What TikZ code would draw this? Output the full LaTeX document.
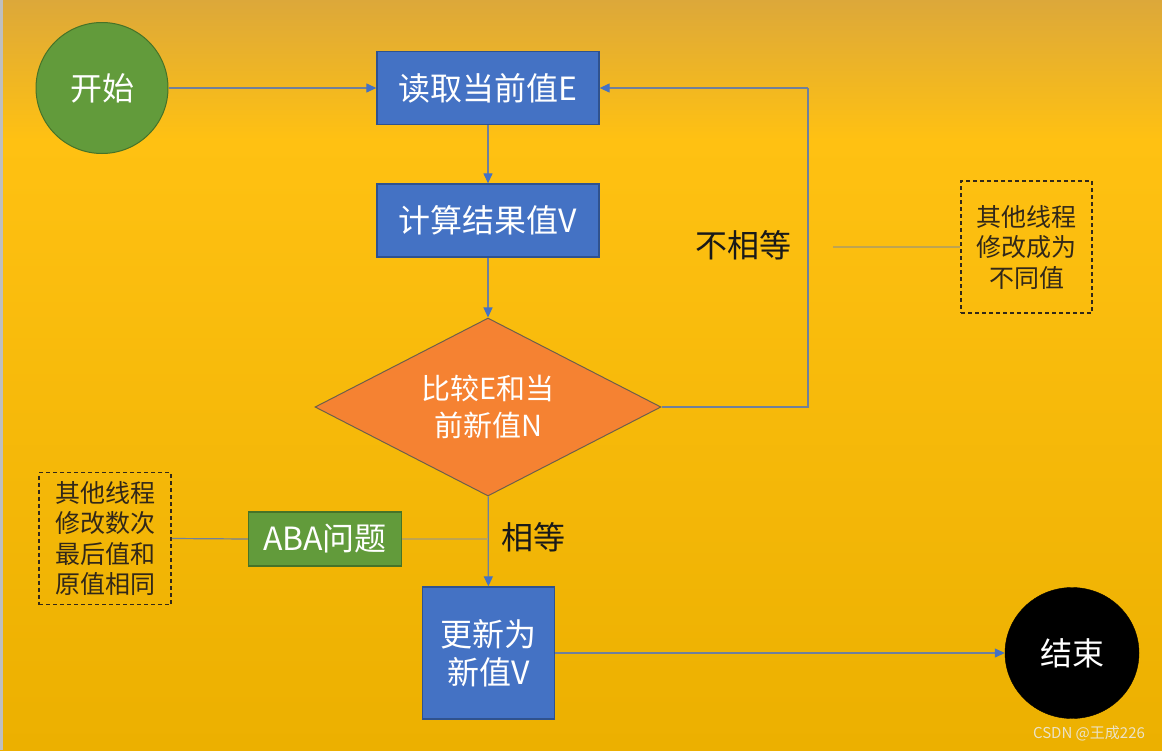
\documentclass[tikz,border=0pt]{standalone}
\usepackage{fontspec}
\setmainfont{Noto Sans CJK SC}
\usetikzlibrary{shapes.geometric,arrows.meta,calc}
\definecolor{bgtop}{RGB}{220,168,58}
\definecolor{bgmid}{RGB}{255,193,18}
\definecolor{bgbot}{RGB}{236,176,0}
\definecolor{boxblue}{RGB}{68,114,196}
\definecolor{boxedge}{RGB}{47,82,143}
\definecolor{grn}{RGB}{98,155,59}
\definecolor{grnedge}{RGB}{70,115,40}
\definecolor{dorange}{RGB}{245,130,50}
\definecolor{dedge}{RGB}{110,95,75}
\definecolor{conncol}{RGB}{112,128,155}
\definecolor{notecol}{RGB}{50,40,25}
\tikzset{
  procbox/.style={rectangle, fill=boxblue, draw=boxedge, line width=1.3pt, text=white, inner sep=0pt, align=center, font=\fontsize{32}{38}\selectfont},
  startc/.style={ellipse, fill=grn, draw=grnedge, line width=1pt, text=white, inner sep=0pt, minimum width=132pt, minimum height=131pt, font=\fontsize{32}{34}\selectfont},
  endc/.style={ellipse, fill=black, draw=black, text=white, inner sep=0pt, minimum width=134pt, minimum height=131pt, font=\fontsize{32}{34}\selectfont},
  decision/.style={diamond, fill=dorange, draw=dedge, line width=1pt, text=white, inner sep=0pt, aspect=1.94, minimum width=346pt, minimum height=178pt, align=center, font=\fontsize{29}{37}\selectfont},
  abastyle/.style={rectangle, fill=grn, draw=grnedge, line width=1.3pt, text=white, inner sep=0pt, minimum width=153pt, minimum height=54pt, font=\fontsize{32}{34}\selectfont},
  notebox/.style={rectangle, draw=notecol, dashed, dash pattern=on 4pt off 3pt, line width=1.5pt, text=notecol, inner sep=0pt, align=center, font=\fontsize{25}{30.5}\selectfont},
  lbl/.style={text=black!90, inner sep=0pt, font=\fontsize{32}{34}\selectfont},
  conn/.style={draw=conncol, line width=1.2pt},
  faint/.style={draw=conncol!45!bgmid, line width=1.2pt},
  arr/.style={conn, -{Triangle[length=10pt,width=9pt,color=boxblue]}},
}
\begin{document}
\begin{tikzpicture}[x=1pt,y=1pt]
\useasboundingbox (0,0) rectangle (1162,-750);
\shade[top color=bgtop, bottom color=bgmid] (0,0) rectangle (1162,-140);
\shade[top color=bgmid, bottom color=bgbot] (0,-140) rectangle (1162,-750);
\fill[black!25] (0,0) rectangle (2.5,-750);

\node[startc] (start) at (102,-88) {开始};
\node[procbox, minimum width=222pt, minimum height=73pt] (read) at (488,-88) {读取当前值E};
\node[procbox, minimum width=222pt, minimum height=73pt] (calc) at (488,-220.5) {计算结果值V};
\node[decision] (cmp) at (488,-407) {比较E和当\\前新值N};
\node[procbox, minimum width=132pt, minimum height=132pt] (upd) at (488.5,-653) {更新为\\新值V};
\node[endc] (end) at (1072,-653) {结束};
\node[abastyle] (aba) at (325,-539) {ABA问题};
\node[notebox, minimum width=131pt, minimum height=132pt] (note1) at (1026.5,-247) {其他线程\\修改成为\\不同值};
\node[notebox, minimum width=132pt, minimum height=132pt] (note2) at (105,-538.5) {其他线程\\修改数次\\最后值和\\原值相同};
\node[lbl] (neq) at (743,-245) {不相等};
\node[lbl] (eq) at (533,-537) {相等};
\node[text=white!92!black, opacity=0.85, inner sep=0pt, font=\fontsize{15}{17}\selectfont] (wm) at (1089,-733) {CSDN @王成226};

\coordinate (loop) at (808,-88);
\coordinate (neqend) at (833,-247);
\coordinate (abaj) at (488,-539);

\draw[arr] (start) -- (read);
\draw[arr] (read) -- (calc);
\draw[arr] (calc) -- (cmp);
\draw[conn] (cmp.east) -| (loop);
\draw[arr] (loop) -- (read.east);
\draw[arr] (cmp) -- (upd);
\draw[arr] (upd) -- (end);
\draw[faint] (aba.east) -- (abaj);
\draw[conn] (note2.east) -- (aba.west);
\draw[faint] (neqend) -- (note1.west);
\end{tikzpicture}
\end{document}
